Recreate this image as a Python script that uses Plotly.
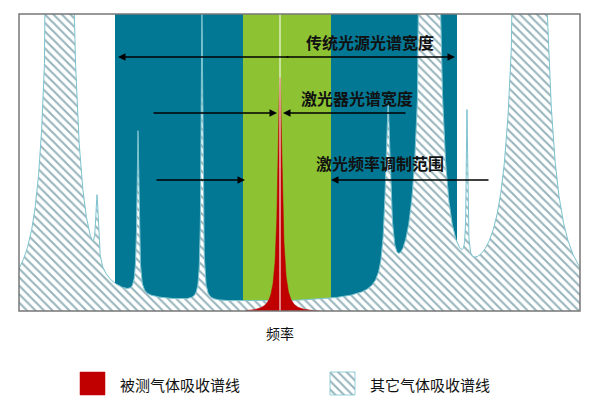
import numpy as np
import plotly.graph_objects as go

# absorption peaks of other gases: centre, height, half-width (x in frequency units 19..580)
peak_centers = [60, 97, 138, 202, 388, 430, 467, 530]
peak_heights = [20, 0.22, 0.55, 0.97, 0.6, 15, 0.5, 25]
peak_widths = [3.2, 1.5, 1.2, 1.0, 3.0, 2.7, 0.8, 3.5]
baseline = 0.02
# measured gas line
target_center, target_height, target_width = 280, 0.79, 2.6
target_span = [245, 320]
# bands
source_band = [115, 457]
laser_band = [243, 331]

labels = ["传统光源光谱宽度", "激光器光谱宽度", "激光频率调制范围"]
xlabel = "频率"
legend_names = ["被测气体吸收谱线", "其它气体吸收谱线"]

OFF = 8
PY0, PY1 = 311, 14
def yd(py):
    return (PY0 - py) / (PY0 - PY1)

x = np.linspace(19, 580, 3000)
y = np.full_like(x, baseline)
for c, h, w in zip(peak_centers, peak_heights, peak_widths):
    y += h / (1 + ((x - c) / w) ** 2)

xr = np.linspace(target_span[0], target_span[1], 800)
yr = target_height / (1 + ((xr - target_center) / target_width) ** 2)
yr = yr - yr.min()

hatch = dict(shape="\\", fgcolor="#2f6b78", bgcolor="white", size=6, solidity=0.35)

fig = go.Figure()
fig.add_trace(go.Scatter(x=x, y=y, fill="tozeroy", mode="lines",
                         line=dict(color="#7cc3cf", width=1), fillpattern=hatch,
                         fillcolor="white", showlegend=False))
fig.add_trace(go.Scatter(x=xr, y=yr, fill="tozeroy", mode="lines",
                         line=dict(color="#c00000", width=0.5), fillcolor="#c00000",
                         showlegend=False))
fig.add_trace(go.Scatter(x=[80, 105, 105, 80, 80], y=[372, 372, 395, 395, 372], fill="toself",
                         mode="lines", line=dict(color="#c00000", width=0.5), fillcolor="#c00000",
                         xaxis="x2", yaxis="y2", showlegend=False))
fig.add_trace(go.Scatter(x=[330, 355, 355, 330, 330], y=[372, 372, 395, 395, 372], fill="toself",
                         mode="lines", line=dict(color="#7cc3cf", width=0.8), fillpattern=hatch,
                         fillcolor="white", xaxis="x2", yaxis="y2", showlegend=False))

shapes = [
    dict(type="rect", xref="x", yref="y", x0=source_band[0], x1=source_band[1], y0=0, y1=1,
         fillcolor="#037895", line_width=0, layer="below"),
    dict(type="rect", xref="x", yref="y", x0=laser_band[0], x1=laser_band[1], y0=0, y1=1,
         fillcolor="#8dc332", line_width=0, layer="below"),
    dict(type="line", xref="x", yref="y", x0=target_center, x1=target_center, y0=0, y1=1,
         line=dict(color="rgba(255,255,255,0.7)", width=1.5)),
    dict(type="rect", xref="x domain", yref="y domain", x0=0, x1=1, y0=0, y1=1,
         line=dict(color="#777", width=1.5)),
]

def arrow(xh, yp, xt):
    return dict(x=xh, y=yd(yp), ax=xt, ay=yd(yp), xref="x", yref="y", axref="x", ayref="y",
                text="", showarrow=True, arrowhead=2, arrowsize=1, arrowwidth=1.5, arrowcolor="black")

ann = [
    arrow(118, 57, 290), arrow(455, 57, 285),
    arrow(277, 113, 152), arrow(283, 113, 407),
    arrow(245, 180, 155), arrow(331, 180, 490),
]
font = dict(family="Noto Sans CJK SC", size=16, color="#111")
for txt, px, py in zip(labels, [370, 357, 380], [42, 98, 163]):
    ann.append(dict(x=px, y=yd(py), xref="x", yref="y", text="<b>" + txt + "</b>",
                    showarrow=False, font=font))
ann.append(dict(x=280, y=333, xref="x2", yref="y2", text=xlabel, showarrow=False,
                font=dict(family="Noto Sans CJK SC", size=14, color="#111")))
for txt, px in zip(legend_names, [118, 368]):
    ann.append(dict(x=px, y=384, xref="x2", yref="y2", text=txt, showarrow=False, xanchor="left",
                    font=dict(family="Noto Sans CJK SC", size=15, color="#111")))

fig.update_layout(
    width=600, height=408, margin=dict(l=0, r=0, t=0, b=0),
    paper_bgcolor="white", plot_bgcolor="rgba(0,0,0,0)",
    xaxis=dict(range=[19, 580], domain=[(19-OFF)/600, (580-OFF)/600], visible=False),
    yaxis=dict(range=[0, 1], domain=[(408-(311-OFF))/408, (408-(14-OFF))/408], visible=False),
    xaxis2=dict(range=[OFF, 600+OFF], domain=[0, 1], visible=False, anchor="y2"),
    yaxis2=dict(range=[408+OFF, OFF], domain=[0, 1], visible=False, anchor="x2"),
    shapes=shapes, annotations=ann,
)
fig.write_html("out.html")
